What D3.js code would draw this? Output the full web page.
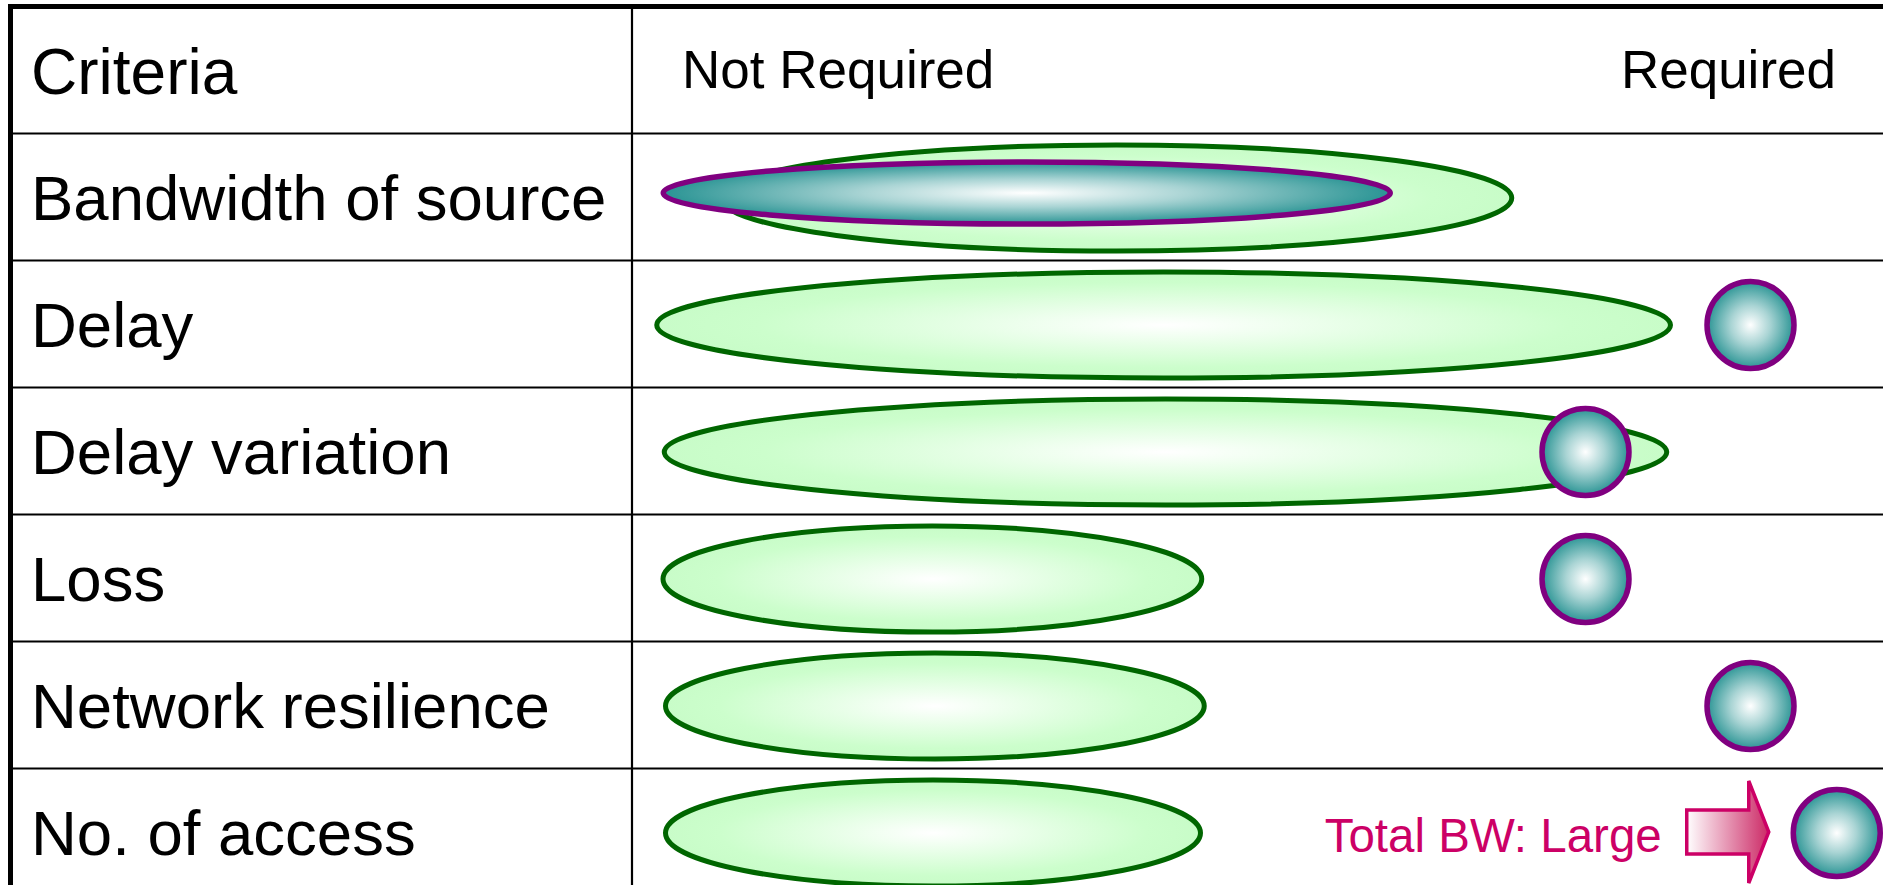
<!DOCTYPE html>
<html>
<head>
<meta charset="utf-8">
<script src="https://cdn.jsdelivr.net/npm/d3@7"></script>
<style>
  html, body { margin: 0; padding: 0; background: #fff; overflow: hidden; }
  svg { display: block; font-family: "Liberation Sans", Arial, sans-serif; }
</style>
</head>
<body>
<svg id="chart" width="1883" height="885"></svg>
<script>
// Criteria compared on a "Not Required" (0) to "Required" (100) scale
const criteria = [
  "Bandwidth of source",
  "Delay",
  "Delay variation",
  "Loss",
  "Network resilience",
  "No. of access"
];
const headerLabels = ["Criteria", "Not Required", "Required"];

// Range covered by existing services (green ellipses)
const serviceFrom = [6.8, 1.7, 2.3, 2.2, 2.4, 2.4];
const serviceTo   = [70.5, 83.2, 82.9, 45.7, 45.9, 45.6];

// Range of source bandwidth (teal ellipse, first criterion only)
const sourceFrom = [2.2];
const sourceTo   = [60.8];

// Required level (teal dots); null where a range is drawn instead
const requiredLevel = [null, 89.4, 76.2, 76.2, 89.4, 96.3];

// Annotation on the last criterion
const noteText = "Total BW: Large";
const noteArrowFrom = 84.3;
const noteArrowTo = 91.1;

const W = 1883, H = 885;
const svg = d3.select("#chart");

const x = d3.scaleLinear().domain([0, 100]).range([633, 1883]);
const rows = ["__header", ...criteria];
const y = d3.scaleBand().domain(rows).range([6.5, 6.5 + 127 * rows.length]).padding(0);
const yc = d => y(d) + y.bandwidth() / 2;

// gradients
const defs = svg.append("defs");
const gGreen = defs.append("radialGradient").attr("id", "gradGreen")
  .attr("cx", "50%").attr("cy", "50%").attr("r", "50%");
gGreen.append("stop").attr("offset", "0%").attr("stop-color", "#ffffff");
gGreen.append("stop").attr("offset", "80%").attr("stop-color", "#ccfecc");
gGreen.append("stop").attr("offset", "100%").attr("stop-color", "#c8fcc8");

const gTeal = defs.append("radialGradient").attr("id", "gradTeal")
  .attr("cx", "50%").attr("cy", "50%").attr("r", "50%");
gTeal.append("stop").attr("offset", "0%").attr("stop-color", "#ffffff");
gTeal.append("stop").attr("offset", "45%").attr("stop-color", "#a9d4d4");
gTeal.append("stop").attr("offset", "100%").attr("stop-color", "#2a9494");

const gArrow = defs.append("linearGradient").attr("id", "gradArrow")
  .attr("x1", "0%").attr("x2", "100%").attr("y1", "0%").attr("y2", "0%");
gArrow.append("stop").attr("offset", "0%").attr("stop-color", "#ffffff");
gArrow.append("stop").attr("offset", "100%").attr("stop-color", "#cc2a66");

// grid: row separators, column divider, outer border
const grid = svg.append("g");
grid.selectAll("line.row")
  .data(rows.slice(1))
  .join("line")
  .attr("class", "row")
  .attr("x1", 10).attr("x2", W)
  .attr("y1", d => y(d)).attr("y2", d => y(d))
  .attr("stroke", "#000").attr("stroke-width", 2.2);
grid.append("line")
  .attr("x1", 632).attr("x2", 632).attr("y1", 6).attr("y2", H)
  .attr("stroke", "#000").attr("stroke-width", 2.2);
grid.append("line")
  .attr("x1", 8).attr("x2", W).attr("y1", 6.5).attr("y2", 6.5)
  .attr("stroke", "#000").attr("stroke-width", 5);
grid.append("line")
  .attr("x1", 10.5).attr("x2", 10.5).attr("y1", 4).attr("y2", H)
  .attr("stroke", "#000").attr("stroke-width", 5);

// header texts
svg.append("text").text(headerLabels[0])
  .attr("x", 31).attr("y", yc("__header") + 24)
  .attr("font-size", 64).attr("fill", "#000");
svg.append("text").text(headerLabels[1])
  .attr("x", 682).attr("y", 88)
  .attr("font-size", 53).attr("fill", "#000");
svg.append("text").text(headerLabels[2])
  .attr("x", 1836).attr("y", 88).attr("text-anchor", "end")
  .attr("font-size", 53).attr("fill", "#000");

// criterion labels
svg.selectAll("text.crit")
  .data(criteria)
  .join("text")
  .attr("class", "crit")
  .attr("x", 31)
  .attr("y", d => yc(d) + 23)
  .attr("font-size", 63.5)
  .attr("fill", "#000")
  .text(d => d);

// green service ranges
const greenStroke = 5;
svg.append("g").selectAll("ellipse")
  .data(criteria.map((c, i) => ({ c, a: serviceFrom[i], b: serviceTo[i] })))
  .join("ellipse")
  .attr("cx", d => (x(d.a) + x(d.b)) / 2)
  .attr("cy", d => yc(d.c) + 1)
  .attr("rx", d => (x(d.b) - x(d.a)) / 2 - greenStroke / 2)
  .attr("ry", 53)
  .attr("fill", "url(#gradGreen)")
  .attr("stroke", "#006600")
  .attr("stroke-width", greenStroke);

// teal source range
const tealStroke = 5.5;
svg.append("g").selectAll("ellipse")
  .data(sourceFrom.map((a, i) => ({ c: criteria[i], a, b: sourceTo[i] })))
  .join("ellipse")
  .attr("cx", d => (x(d.a) + x(d.b)) / 2)
  .attr("cy", d => yc(d.c) - 4)
  .attr("rx", d => (x(d.b) - x(d.a)) / 2 - tealStroke / 2)
  .attr("ry", 31)
  .attr("fill", "url(#gradTeal)")
  .attr("stroke", "#800080")
  .attr("stroke-width", tealStroke);

// required levels
svg.append("g").selectAll("circle")
  .data(criteria.map((c, i) => ({ c, v: requiredLevel[i] })).filter(d => d.v != null))
  .join("circle")
  .attr("cx", d => x(d.v))
  .attr("cy", d => yc(d.c) + 1)
  .attr("r", 43.5)
  .attr("fill", "url(#gradTeal)")
  .attr("stroke", "#800080")
  .attr("stroke-width", tealStroke);

// annotation arrow and text
const lastRow = criteria[criteria.length - 1];
const ay = yc(lastRow);
const x0 = x(noteArrowFrom), xt = x(noteArrowTo) - 3;
const xb = xt - 20;
const sh = 22, hh = 51;
const arrowPath = d3.path();
arrowPath.moveTo(x0, ay - sh);
arrowPath.lineTo(xb, ay - sh);
arrowPath.lineTo(xb, ay - hh);
arrowPath.lineTo(xt, ay);
arrowPath.lineTo(xb, ay + hh);
arrowPath.lineTo(xb, ay + sh);
arrowPath.lineTo(x0, ay + sh);
arrowPath.closePath();
svg.append("path")
  .attr("d", arrowPath.toString())
  .attr("fill", "url(#gradArrow)")
  .attr("stroke", "#cc0066")
  .attr("stroke-width", 3.5)
  .attr("stroke-linejoin", "miter");

svg.append("text")
  .attr("x", x0 - 25)
  .attr("y", ay + 20)
  .attr("text-anchor", "end")
  .attr("font-size", 47.5)
  .attr("fill", "#cc0066")
  .text(noteText);
</script>
</body>
</html>
